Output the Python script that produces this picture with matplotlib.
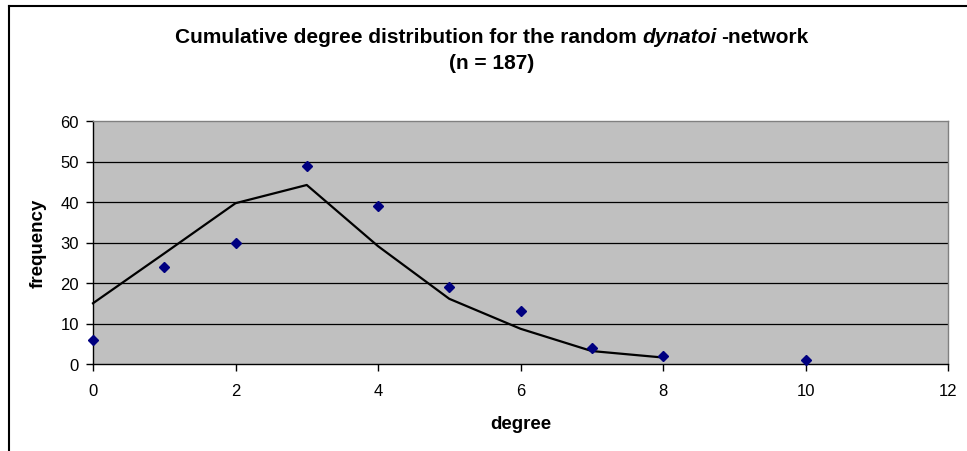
import matplotlib
matplotlib.use("Agg")
import matplotlib.pyplot as plt
from matplotlib.lines import Line2D

plt.rcParams['font.family'] = ['Liberation Sans', 'DejaVu Sans']

# Observed degree frequencies (points)
obs_degree = [0, 1, 2, 3, 4, 5, 6, 7, 8, 10]
obs_freq = [6, 24, 30, 49, 39, 19, 13, 4, 2, 1]

# Fitted / expected curve (line)
fit_degree = [0, 1, 2, 3, 4, 5, 6, 7, 8]
fit_freq = [15, 27.3, 39.7, 44.2, 29.1, 16.1, 8.7, 3.2, 1.6]

x_ticks = [0, 2, 4, 6, 8, 10, 12]
y_ticks = [0, 10, 20, 30, 40, 50, 60]

W, H = 967, 452
fig = plt.figure(figsize=(W / 100, H / 100), dpi=100)
ax = fig.add_axes([93 / W, 1 - 365 / H, (948 - 93) / W, (365 - 122) / H])
ax.set_facecolor('#C0C0C0')

ax.set_xlim(0, 12)
ax.set_ylim(0, 60)
ax.set_xticks(x_ticks)
ax.set_yticks(y_ticks)
ax.tick_params(axis='both', direction='out', length=5, width=1, labelsize=12, color='black')
ax.tick_params(axis='x', pad=9)
ax.tick_params(axis='y', pad=5)

for y in y_ticks[1:-1]:
    ax.axhline(y, color='black', lw=0.9, zorder=1)

ax.plot(fit_degree, fit_freq, color='black', lw=1.6, zorder=3, clip_on=False)
ax.plot(obs_degree, obs_freq, linestyle='none', marker='D', markersize=5,
        color='#000080', zorder=4, clip_on=False)

for s in ['top', 'right']:
    ax.spines[s].set_color('#808080')
    ax.spines[s].set_linewidth(1)
for s in ['left', 'bottom']:
    ax.spines[s].set_color('black')
    ax.spines[s].set_linewidth(1)

ax.set_xlabel('degree', fontsize=13.5, fontweight='bold', labelpad=12)
ax.set_ylabel('frequency', fontsize=13.5, fontweight='bold', labelpad=10)

# Title with italic part, centered
parts = [("Cumulative degree distribution for the random ", 'normal'),
         ("dynatoi", 'italic'),
         ("-network", 'normal')]
tx = [fig.text(0, 0, p, fontsize=15, fontweight='bold', style=st, va='baseline', ha='left')
      for p, st in parts]
fig.canvas.draw()
r = fig.canvas.get_renderer()
widths = [t.get_window_extent(r).width for t in tx]
gap = 4
total = sum(widths) + gap
cx = 491.5
x0 = cx - total / 2
ybase = 1 - 43 / H
xpos = x0
for i, (t, w) in enumerate(zip(tx, widths)):
    t.set_position((xpos / W, ybase))
    xpos += w + (gap if i == 1 else 0)
fig.text(cx / W, 1 - 69 / H, "(n = 187)", fontsize=15, fontweight='bold', ha='center', va='baseline')

# chart frame (top and left edges visible)
fig.add_artist(Line2D([8.5 / W, 8.5 / W], [0, 1 - 7 / H], color='black', lw=1.5,
                      transform=fig.transFigure))
fig.add_artist(Line2D([8.5 / W, 1], [1 - 7 / H, 1 - 7 / H], color='black', lw=1.5,
                      transform=fig.transFigure))

fig.savefig('out.png', dpi=100, facecolor='white')
